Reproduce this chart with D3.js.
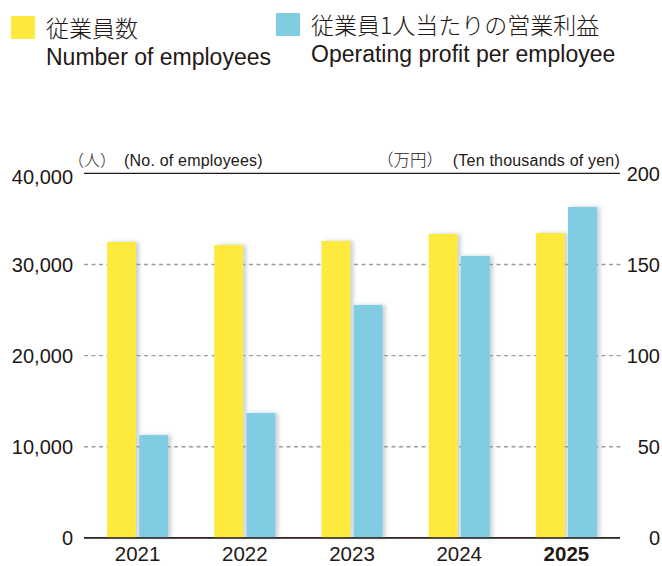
<!DOCTYPE html>
<html>
<head>
<meta charset="utf-8">
<script src="https://cdn.jsdelivr.net/npm/d3@7"></script>
<style>
  body { margin: 0; background: #fff; }
  text { font-family: "Liberation Sans", Arial, sans-serif; fill: #231815; }
  .jp { font-family: "Noto Sans CJK JP", sans-serif; font-weight: 300; }
</style>
</head>
<body>
<div id="chart"></div>
<script>
const width = 662,
    height = 566;

// data
const years = ["2021", "2022", "2023", "2024", "2025"];
const employees = [32470, 32140, 32580, 33350, 33460];
const profitPerEmployee = [56.4, 68.5, 127.8, 154.7, 181.6];
const leftTicks = [0, 10000, 20000, 30000, 40000];
const rightTicks = [0, 50, 100, 150, 200];

const yellow = "#fee93c",
    blue = "#80cce3";

const svg = d3.select("#chart").append("svg")
    .attr("width", width)
    .attr("height", height);

const defs = svg.append("defs");
const shadow = defs.append("filter")
    .attr("id", "shadow")
    .attr("x", "-20%").attr("y", "-5%")
    .attr("width", "160%").attr("height", "110%");
shadow.append("feDropShadow")
    .attr("dx", 3).attr("dy", 0)
    .attr("stdDeviation", 2)
    .attr("flood-color", "#7f98a8")
    .attr("flood-opacity", 0.45);

const x = d3.scaleBand()
    .domain(years)
    .range([84, 620]);

const x1 = d3.scaleBand()
    .domain(["emp", "profit"])
    .range([x.bandwidth() / 2 - 30.5, x.bandwidth() / 2 + 30.5])
    .paddingInner(0.1);

const yLeft = d3.scaleLinear()
    .domain([0, 40000])
    .range([537.8, 173.4]);

const yRight = d3.scaleLinear()
    .domain([0, 200])
    .range([537.8, 173.4]);

// dashed gridlines
svg.append("g")
    .selectAll("line")
    .data(leftTicks.filter(d => d > 0 && d < 40000))
    .join("line")
    .attr("x1", 84)
    .attr("x2", 621)
    .attr("y1", d => yLeft(d))
    .attr("y2", d => yLeft(d))
    .attr("stroke", "#9d9d9d")
    .attr("stroke-width", 1.4)
    .attr("stroke-dasharray", "4,3.5");

// top and bottom solid lines
svg.append("g")
    .selectAll("line")
    .data([0, 40000])
    .join("line")
    .attr("x1", 84)
    .attr("x2", 620)
    .attr("y1", d => yLeft(d))
    .attr("y2", d => yLeft(d))
    .attr("stroke", "#231815")
    .attr("stroke-width", 1.3);

// bars
const groups = svg.append("g")
    .selectAll("g")
    .data(years)
    .join("g")
    .attr("transform", d => `translate(${x(d)},0)`);

groups.append("rect")
    .attr("x", x1("emp"))
    .attr("width", x1.bandwidth())
    .attr("y", (d, i) => yLeft(employees[i]))
    .attr("height", (d, i) => yLeft(0) - yLeft(employees[i]))
    .attr("fill", yellow)
    .attr("filter", "url(#shadow)");

groups.append("rect")
    .attr("x", x1("profit"))
    .attr("width", x1.bandwidth())
    .attr("y", (d, i) => yRight(profitPerEmployee[i]))
    .attr("height", (d, i) => yRight(0) - yRight(profitPerEmployee[i]))
    .attr("fill", blue)
    .attr("filter", "url(#shadow)");

// redraw baseline over bar shadows
svg.append("line")
    .attr("x1", 84).attr("x2", 620)
    .attr("y1", yLeft(0)).attr("y2", yLeft(0))
    .attr("stroke", "#231815")
    .attr("stroke-width", 1.3);

// left axis labels
svg.append("g")
    .selectAll("text")
    .data(leftTicks)
    .join("text")
    .attr("x", 73)
    .attr("y", d => yLeft(d) + (d === 40000 ? 3 : 0))
    .attr("dy", "0.36em")
    .attr("text-anchor", "end")
    .style("font-size", "20px")
    .text(d => d3.format(",")(d));

// right axis labels
svg.append("g")
    .selectAll("text")
    .data(rightTicks)
    .join("text")
    .attr("x", 660)
    .attr("y", d => yRight(d))
    .attr("dy", "0.36em")
    .attr("text-anchor", "end")
    .style("font-size", "20px")
    .text(d => d);

// year labels
svg.append("g")
    .selectAll("text")
    .data(years)
    .join("text")
    .attr("x", d => x(d) + x.bandwidth() / 2)
    .attr("y", 561)
    .attr("text-anchor", "middle")
    .style("font-size", "20.5px")
    .style("font-weight", d => d === "2025" ? "bold" : "normal")
    .text(d => d);

// unit labels
svg.append("text").attr("class", "jp")
    .attr("x", 68).attr("y", 166)
    .style("font-size", "16px")
    .text("（人）");
svg.append("text")
    .attr("x", 124).attr("y", 166)
    .style("font-size", "16px")
    .style("letter-spacing", "0.2px")
    .text("(No. of employees)");
svg.append("text").attr("class", "jp")
    .attr("x", 377).attr("y", 166)
    .style("font-size", "16.5px")
    .text("（万円）");
svg.append("text")
    .attr("x", 620).attr("y", 166)
    .attr("text-anchor", "end")
    .style("font-size", "16px")
    .style("letter-spacing", "0.2px")
    .text("(Ten thousands of yen)");

// legend
const legend = [
    { color: yellow, jp: "従業員数", en: "Number of employees", x: 11, y: 16 },
    { color: blue, jp: "従業員1人当たりの営業利益", en: "Operating profit per employee", x: 276, y: 13 }
];

const lg = svg.append("g")
    .selectAll("g")
    .data(legend)
    .join("g")
    .attr("transform", d => `translate(${d.x},${d.y})`);

lg.append("rect")
    .attr("width", 24)
    .attr("height", 23)
    .attr("fill", d => d.color);

lg.append("text").attr("class", "jp")
    .attr("x", 35)
    .attr("y", 21)
    .style("font-size", "23px")
    .text(d => d.jp);

lg.append("text")
    .attr("x", 35)
    .attr("y", 49)
    .style("font-size", "23px")
    .text(d => d.en);
</script>
</body>
</html>
